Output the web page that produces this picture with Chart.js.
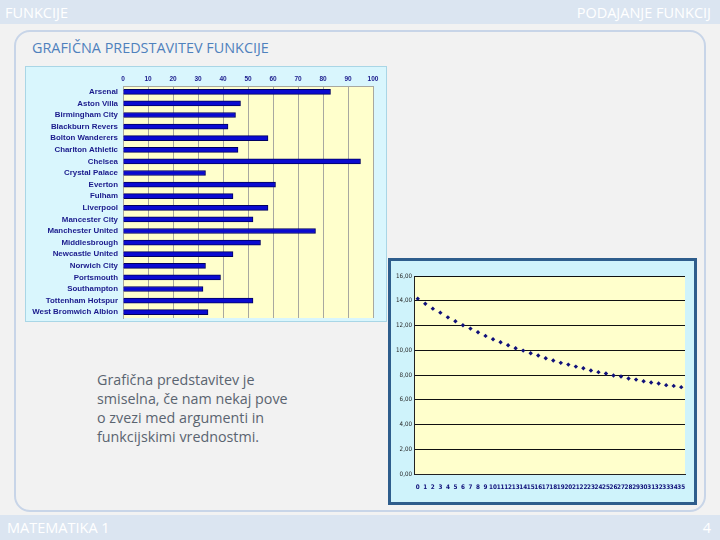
<!DOCTYPE html>
<html>
<head>
<meta charset="utf-8">
<script src="https://cdn.jsdelivr.net/npm/chart.js@4"></script>
<style>
  body { margin: 0; width: 720px; height: 540px; background: #f2f2f2; position: relative; overflow: hidden; font-family: "Open Sans", sans-serif; }
  .band { position: absolute; left: 0; width: 720px; background: #dbe5f1; color: #fff; font-size: 14.5px; }
  #top { top: 0; height: 24px; }
  #bottom { top: 515px; height: 25px; }
  .band span { position: absolute; top: 3px; }
  #frame { position: absolute; left: 14px; top: 30px; width: 688px; height: 478px; border: 2px solid #c8d5e8; border-radius: 16px; }
  #title { position: absolute; left: 32px; top: 38px; font-size: 14.4px; color: #4f81bd; }
  #note { position: absolute; left: 97px; top: 370px; font-size: 14.3px; line-height: 19px; color: #5a6470; }
  #barBox { position: absolute; left: 25px; top: 66px; width: 360px; height: 254px; border: 1px solid #a9d6e6; background: #d9f6fd; }
  #lineBox { position: absolute; left: 388px; top: 258px; width: 303px; height: 241px; border: 3px solid #2e5d8c; background: #cff3fb; }
</style>
</head>
<body>
<div class="band" id="top"><span style="left:5px">FUNKCIJE</span><span style="right:9px">PODAJANJE FUNKCIJ</span></div>
<div id="frame"></div>
<div id="title">GRAFIČNA PREDSTAVITEV FUNKCIJE</div>
<div id="barBox"><canvas id="barChart" width="360" height="254"></canvas></div>
<div id="lineBox"><canvas id="lineChart" width="303" height="241"></canvas></div>
<div id="note">Grafična predstavitev je<br>smiselna, če nam nekaj pove<br>o zvezi med argumenti in<br>funkcijskimi vrednostmi.</div>
<div class="band" id="bottom"><span style="left:7px">MATEMATIKA 1</span><span style="right:9px">4</span></div>

<script>
// podatki - klubi in tocke
const clubs = ['Arsenal', 'Aston Villa', 'Birmingham City', 'Blackburn Revers', 'Bolton Wanderers',
    'Charlton Athletic', 'Chelsea', 'Crystal Palace', 'Everton', 'Fulham', 'Liverpool',
    'Mancester City', 'Manchester United', 'Middlesbrough', 'Newcastle United', 'Norwich City',
    'Portsmouth', 'Southampton', 'Tottenham Hotspur', 'West Bromwich Albion'];
const points = [83, 47, 45, 42, 58, 46, 95, 33, 61, 44, 58, 52, 77, 55, 44, 33, 39, 32, 52, 34];

// podatki - funkcija
const xArgs = ['0', '1', '2', '3', '4', '5', '6', '7', '8', '9', '10', '11', '12', '13', '14', '15', '16', '17',
    '18', '19', '20', '21', '22', '23', '24', '25', '26', '27', '28', '29', '30', '31', '32', '33', '34', '35'];
const fValues = [14.17, 13.76, 13.36, 13.04, 12.66, 12.34, 12.02, 11.75, 11.45, 11.16, 10.89, 10.65,
    10.40, 10.16, 9.97, 9.76, 9.57, 9.35, 9.17, 8.98, 8.84, 8.68, 8.55, 8.36, 8.23, 8.12, 7.96, 7.88,
    7.72, 7.63, 7.50, 7.39, 7.31, 7.18, 7.12, 7.02];

// rumeno ozadje risalne ploskve
const plotBg = {
    id: 'plotBg',
    beforeDraw(chart) {
        const a = chart.chartArea;
        chart.ctx.save();
        chart.ctx.fillStyle = '#ffffcc';
        chart.ctx.fillRect(a.left, a.top, a.right - a.left, a.bottom - a.top);
        chart.ctx.restore();
    }
};

new Chart(document.getElementById('barChart'), {
    type: 'bar',
    data: {
        labels: clubs,
        datasets: [{
            data: points,
            backgroundColor: '#0a0ad0',
            borderColor: '#000060',
            borderWidth: 1,
            barThickness: 5
        }]
    },
    options: {
        indexAxis: 'y',
        responsive: false,
        animation: false,
        layout: { padding: { left: 0, right: 13, top: 5, bottom: 3 } },
        plugins: { legend: { display: false }, tooltip: { enabled: false } },
        scales: {
            x: {
                position: 'top',
                min: 0, max: 100,
                afterFit: s => { s.height = 14; },
                ticks: { stepSize: 10, color: '#1a1a8c', font: { family: 'Liberation Sans', size: 6.5, weight: 'bold' }, padding: 3 },
                grid: { color: '#a8a8a0', drawTicks: false },
                border: { color: '#a8a8a0' }
            },
            y: {
                afterFit: s => { s.width = 97; s.paddingTop = 0; s.paddingBottom = 0; },
                ticks: { color: '#1a1a8c', font: { family: 'Liberation Sans', size: 7.9, weight: 'bold' }, padding: 5, autoSkip: false },
                grid: { display: false, drawTicks: false },
                border: { color: '#a8a8a0' }
            }
        }
    },
    plugins: [plotBg]
});

new Chart(document.getElementById('lineChart'), {
    type: 'line',
    data: {
        labels: xArgs,
        datasets: [{
            data: fValues,
            showLine: false,
            pointStyle: 'rectRot',
            pointRadius: 2.2,
            backgroundColor: '#10107a',
            borderColor: '#10107a',
            borderWidth: 0
        }]
    },
    options: {
        responsive: false,
        animation: false,
        layout: { padding: { left: 0, right: 9, top: 15, bottom: 0 } },
        plugins: { legend: { display: false }, tooltip: { enabled: false } },
        scales: {
            x: {
                offset: true,
                afterFit: s => { s.height = 28; },
                ticks: { autoSkip: false, maxRotation: 0, color: '#10107a', font: { family: 'DejaVu Sans Condensed', size: 6.3, weight: 'bold' }, padding: 7 },
                grid: { display: false, drawTicks: true, tickLength: 3, tickColor: '#222' },
                border: { color: '#222' }
            },
            y: {
                min: 0, max: 16,
                afterFit: s => { s.width = 23; },
                ticks: {
                    stepSize: 2, color: '#222', padding: 2,
                    font: { family: 'DejaVu Sans Condensed', size: 6.2 },
                    callback: v => v.toFixed(2).replace('.', ',')
                },
                grid: { color: '#111', drawTicks: false, lineWidth: 1 },
                border: { color: '#222' }
            }
        }
    },
    plugins: [plotBg]
});
</script>
</body>
</html>
